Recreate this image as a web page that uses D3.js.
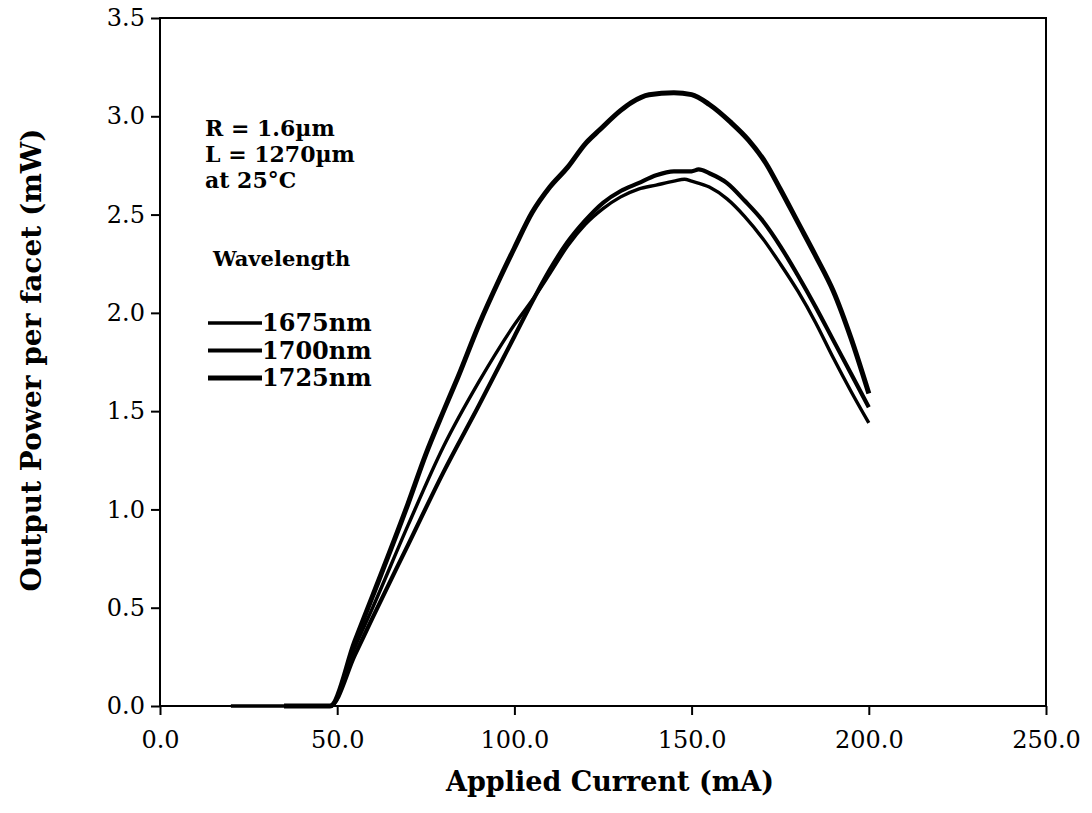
<!DOCTYPE html>
<html>
<head>
<meta charset="utf-8">
<script src="https://cdn.jsdelivr.net/npm/d3@7"></script>
<style>
  body { margin: 0; background: #fff; }
  svg { display: block; }
  .tick text { font-family: "DejaVu Serif", serif; font-size: 24px; fill: #000; }
  .bold { font-family: "DejaVu Serif", serif; font-weight: bold; fill: #000; }
</style>
</head>
<body>
<svg id="chart" width="1092" height="813"></svg>
<script>
// measured curves, current in mA, power in mW
const current1675 = [20, 35, 48, 55, 60, 70, 80, 90, 100, 106, 110, 115, 120, 125, 130, 135, 140, 145, 148, 150, 155, 160, 165, 170, 175, 180, 185, 190, 195, 200];
const power1675   = [0, 0, 0, 0.30, 0.50, 0.92, 1.32, 1.65, 1.94, 2.09, 2.20, 2.34, 2.45, 2.53, 2.59, 2.63, 2.65, 2.67, 2.68, 2.67, 2.64, 2.58, 2.49, 2.38, 2.25, 2.11, 1.95, 1.77, 1.60, 1.44];

const current1700 = [35, 48, 55, 60, 70, 80, 90, 100, 106, 110, 115, 120, 125, 130, 135, 140, 145, 150, 152, 155, 160, 165, 170, 175, 180, 185, 190, 195, 200];
const power1700   = [0, 0, 0.26, 0.45, 0.82, 1.19, 1.53, 1.88, 2.09, 2.22, 2.36, 2.47, 2.56, 2.62, 2.66, 2.70, 2.72, 2.72, 2.73, 2.71, 2.66, 2.57, 2.47, 2.34, 2.19, 2.03, 1.86, 1.69, 1.52];

const current1725 = [35, 48, 55, 60, 70, 75, 80, 84, 90, 96, 100, 105, 110, 115, 120, 124, 130, 133, 138, 145, 150, 155, 161, 166, 171, 175, 180, 185, 190, 195, 200];
const power1725   = [0, 0, 0.33, 0.56, 1.03, 1.28, 1.50, 1.67, 1.94, 2.18, 2.33, 2.51, 2.64, 2.74, 2.86, 2.93, 3.03, 3.07, 3.11, 3.12, 3.11, 3.06, 2.97, 2.88, 2.76, 2.63, 2.46, 2.29, 2.11, 1.87, 1.59];

const xTicks = [0, 50, 100, 150, 200, 250];
const yTicks = [0, 0.5, 1.0, 1.5, 2.0, 2.5, 3.0, 3.5];
const seriesNames = ["1675nm", "1700nm", "1725nm"];
const notes = ["R = 1.6\u00b5m", "L = 1270\u00b5m", "at 25\u00b0C"];

const svg = d3.select("#chart");
const plotLeft = 160, plotRight = 1046, plotTop = 18, plotBottom = 706;

const x = d3.scaleLinear().domain([0, 250]).range([plotLeft, plotRight]);
const y = d3.scaleLinear().domain([0, 3.5]).range([plotBottom, plotTop]);

// plot frame
svg.append("rect")
  .attr("x", plotLeft).attr("y", plotTop)
  .attr("width", plotRight - plotLeft).attr("height", plotBottom - plotTop)
  .attr("fill", "none").attr("stroke", "#000").attr("stroke-width", 2);

const xAxis = svg.append("g")
  .attr("transform", `translate(0,${plotBottom})`)
  .call(d3.axisBottom(x).tickValues(xTicks).tickFormat(d3.format(".1f")).tickSize(9).tickPadding(16));
xAxis.select(".domain").remove();
xAxis.selectAll("line").attr("stroke-width", 2);

const yAxis = svg.append("g")
  .attr("transform", `translate(${plotLeft},0)`)
  .call(d3.axisLeft(y).tickValues(yTicks).tickFormat(d3.format(".1f")).tickSize(9).tickPadding(6));
yAxis.select(".domain").remove();
yAxis.selectAll("line").attr("stroke-width", 2);

// axis titles
svg.append("text").attr("class", "bold")
  .attr("x", 610).attr("y", 791)
  .attr("text-anchor", "middle").attr("font-size", 27)
  .text("Applied Current (mA)");

svg.append("text").attr("class", "bold")
  .attr("transform", "translate(41,360) rotate(-90)")
  .attr("text-anchor", "middle").attr("font-size", 28)
  .text("Output Power per facet (mW)");

// curves
const series = [
  { xs: current1675, ys: power1675, w: 3.4 },
  { xs: current1700, ys: power1700, w: 4.2 },
  { xs: current1725, ys: power1725, w: 5 }
];

const line = d3.line().x(d => x(d[0])).y(d => y(d[1])).curve(d3.curveMonotoneX);

svg.selectAll("path.curve")
  .data(series)
  .enter()
  .append("path")
  .attr("class", "curve")
  .attr("d", s => line(s.xs.map((c, i) => [c, s.ys[i]])))
  .attr("fill", "none")
  .attr("stroke", "#000")
  .attr("stroke-width", s => s.w)
  .attr("stroke-linejoin", "round");

// notes
svg.selectAll("text.note")
  .data(notes)
  .enter()
  .append("text")
  .attr("class", "bold note")
  .attr("x", 205)
  .attr("y", (d, i) => 136 + i * 26)
  .attr("font-size", 22)
  .text(d => d);

svg.append("text").attr("class", "bold")
  .attr("x", 213).attr("y", 266)
  .attr("font-size", 21)
  .text("Wavelength");

// legend
const legend = svg.selectAll("g.legend")
  .data(seriesNames)
  .enter()
  .append("g")
  .attr("class", "legend")
  .attr("transform", (d, i) => `translate(0,${323 + i * 27.5})`);

legend.append("line")
  .attr("x1", 208).attr("x2", 262)
  .attr("stroke", "#000")
  .attr("stroke-width", (d, i) => series[i].w);

legend.append("text")
  .attr("class", "bold")
  .attr("x", 262).attr("y", 8)
  .attr("font-size", 24)
  .text(d => d);
</script>
</body>
</html>
